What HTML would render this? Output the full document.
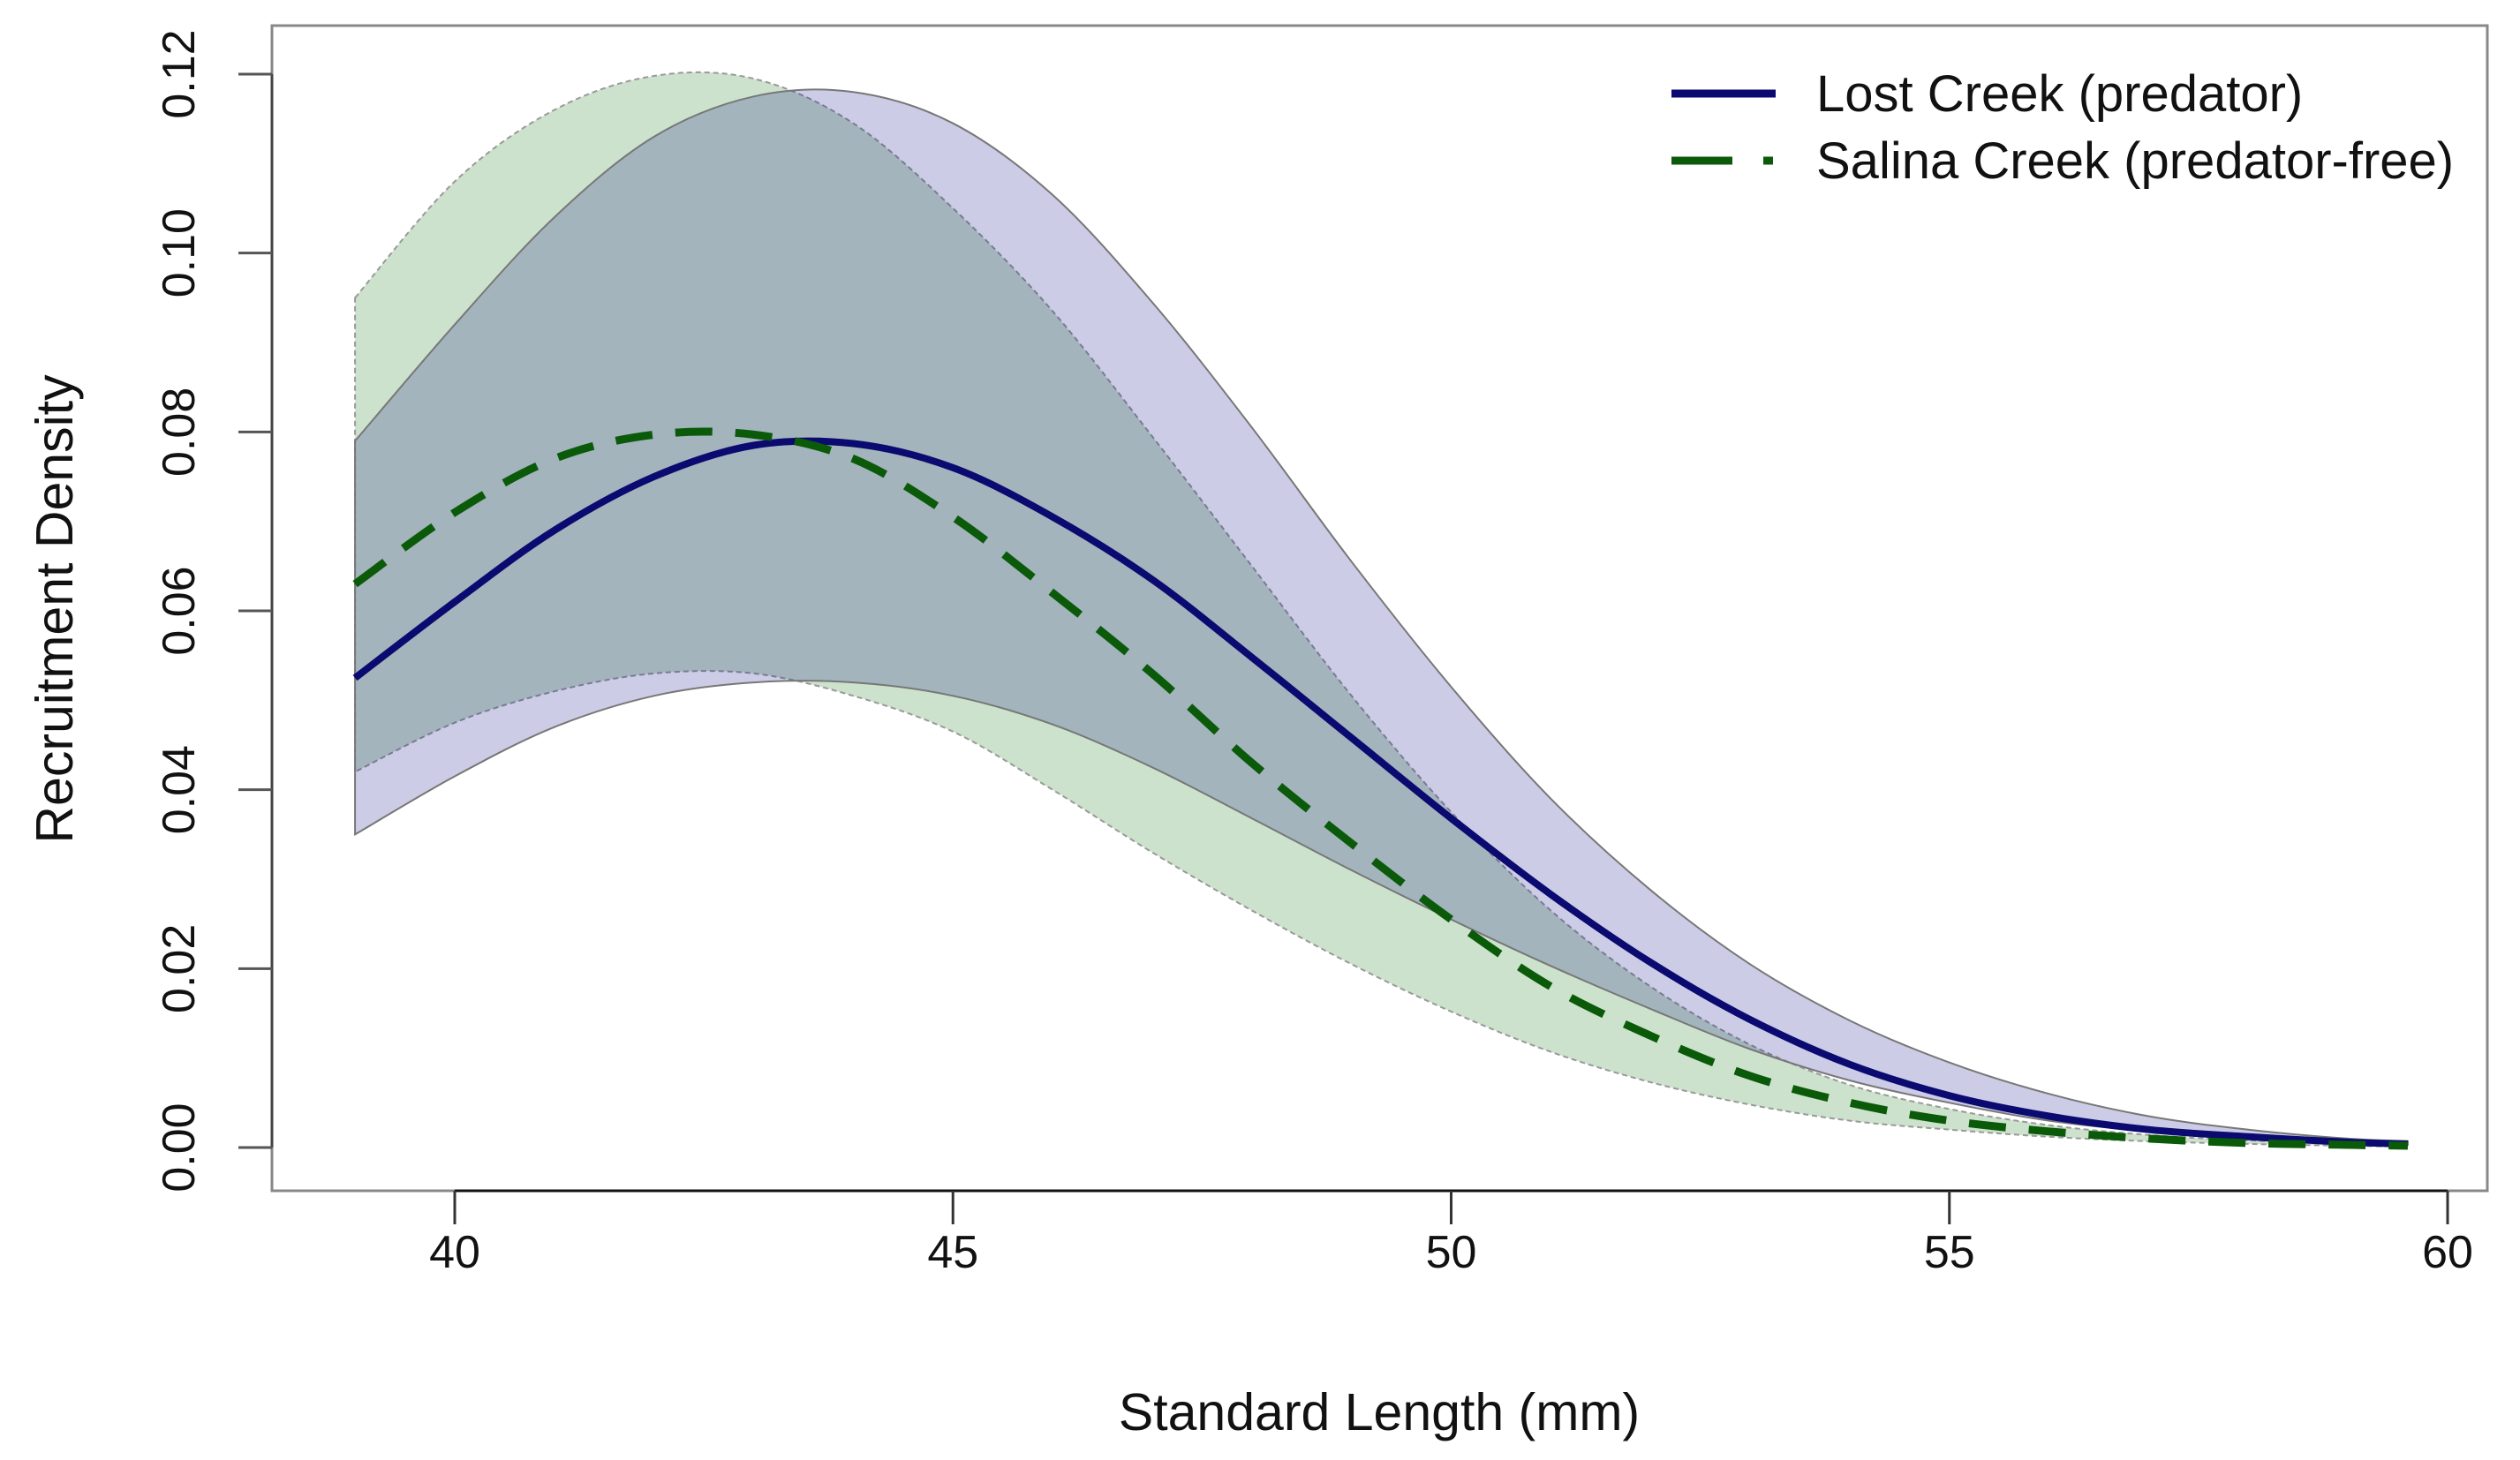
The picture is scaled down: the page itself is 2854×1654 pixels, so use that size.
<!DOCTYPE html>
<html><head><meta charset="utf-8"><style>
html,body{margin:0;padding:0;background:#fff;}
svg{display:block;}
text{font-family:"Liberation Sans",sans-serif;fill:#111;}
</style></head><body>
<svg id="chart" width="2854" height="1654" viewBox="0 0 2854 1654" xmlns="http://www.w3.org/2000/svg">
<g id="bands"></g>
<g id="lines"></g>
<g id="axes"></g>
<text x="1562" y="1620" font-size="59" text-anchor="middle">Standard Length (mm)</text>
<text transform="translate(82,690) rotate(-90)" font-size="59" text-anchor="middle">Recruitment Density</text>
<g>
<line x1="1893" y1="106" x2="2011" y2="106" stroke="#0a0a70" stroke-width="9"/>
<text x="2057" y="126" font-size="58">Lost Creek (predator)</text>
<line x1="1893" y1="182" x2="2011" y2="182" stroke="#0a5a0a" stroke-width="9" stroke-dasharray="69 35 11 100"/>
<text x="2057" y="202" font-size="58">Salina Creek (predator-free)</text>
</g>
</svg>
<script>
const xs = [39,40,41,42,43,44,45,46,47,48,49,50,51,52,53,54,55,56,57,58,59,59.6];
const lostMean = [0.0525,0.061,0.069,0.075,0.0785,0.0787,0.076,0.0705,0.0635,0.0548,0.0458,0.0368,0.0283,0.0207,0.0143,0.0093,0.0058,0.0035,0.002,0.0012,0.0006,0.0004];
const lostUpper = [0.079,0.092,0.104,0.113,0.1175,0.118,0.1145,0.1065,0.0945,0.0805,0.0655,0.0515,0.039,0.0288,0.0205,0.0142,0.0095,0.006,0.0035,0.002,0.001,0.0007];
const lostLower = [0.035,0.0415,0.047,0.0505,0.052,0.052,0.0505,0.0473,0.0425,0.0368,0.031,0.0255,0.0203,0.0155,0.011,0.0075,0.005,0.003,0.0018,0.001,0.0005,0.0003];
const salinaMean = [0.063,0.071,0.077,0.0797,0.0797,0.077,0.0705,0.062,0.053,0.043,0.034,0.0255,0.018,0.0125,0.008,0.005,0.003,0.0018,0.001,0.0005,0.0003,0.0002];
const salinaUpper = [0.095,0.108,0.116,0.1198,0.1195,0.1145,0.105,0.0935,0.0795,0.065,0.0505,0.0375,0.0265,0.018,0.0115,0.007,0.0043,0.0025,0.0014,0.0008,0.0004,0.0003];
const salinaLower = [0.042,0.0475,0.051,0.053,0.053,0.0505,0.0465,0.040,0.033,0.0265,0.0205,0.0152,0.0107,0.0073,0.0048,0.003,0.002,0.0012,0.0007,0.0004,0.0002,0.0001];
const xTicks = [40,45,50,55,60];
const yTicks = [0,0.02,0.04,0.06,0.08,0.10,0.12];
const yTickLabels = ["0.00","0.02","0.04","0.06","0.08","0.10","0.12"];

const NS="http://www.w3.org/2000/svg";
const X0=515, XS=(2772-515)/20, Y0=1300, YS=(1300-84)/0.12;
function sx(v){return X0+(v-40)*XS;}
function sy(v){return Y0-v*YS;}
function mk(tag,attrs,parent){const e=document.createElementNS(NS,tag);for(const k in attrs)e.setAttribute(k,attrs[k]);parent.appendChild(e);return e;}
function curve(p,start){let d=start+p[0][0].toFixed(1)+','+p[0][1].toFixed(1);
  for(let i=0;i<p.length-1;i++){const a=p[Math.max(0,i-1)],b=p[i],c=p[i+1],e=p[Math.min(p.length-1,i+2)];
    d+='C'+(b[0]+(c[0]-a[0])/6).toFixed(1)+','+(b[1]+(c[1]-a[1])/6).toFixed(1)+' '+(c[0]-(e[0]-b[0])/6).toFixed(1)+','+(c[1]-(e[1]-b[1])/6).toFixed(1)+' '+c[0].toFixed(1)+','+c[1].toFixed(1);}
  return d;}
function smooth(ys){return curve(xs.map((x,i)=>[sx(x),sy(ys[i])]),'M');}
function bandPath(up,lo){
  const rx=xs.slice().reverse(), rl=lo.slice().reverse();
  return smooth(up)+curve(rx.map((x,i)=>[sx(x),sy(rl[i])]),'L')+'Z';}
const bands=document.getElementById('bands'), lines=document.getElementById('lines'), axes=document.getElementById('axes');
let b1=mk('path',{d:bandPath(salinaUpper,salinaLower),fill:'rgba(0,110,0,0.2)',stroke:'#999','stroke-width':2,'stroke-dasharray':'6 4'},bands);


let b2=mk('path',{d:bandPath(lostUpper,lostLower),fill:'rgba(0,0,128,0.2)',stroke:'#777','stroke-width':2},bands);


let l1=mk('path',{d:smooth(lostMean),fill:'none',stroke:'#0a0a70','stroke-width':8},lines);


let l2=mk('path',{d:smooth(salinaMean),fill:'none',stroke:'#0a5a0a','stroke-width':9,'stroke-dasharray':'42 26'},lines);


let box=mk('rect',{x:308,y:29,width:2509,height:1320,fill:'none',stroke:'#888','stroke-width':3},axes);


let xa=mk('line',{x1:sx(40),y1:1349,x2:sx(60),y2:1349,stroke:'#111','stroke-width':3},axes);


let ya=mk('line',{x1:308,y1:sy(0),x2:308,y2:sy(0.12),stroke:'#444','stroke-width':3},axes);


xTicks.forEach(v=>{
  let t=mk('line',{x1:sx(v),y1:1349,x2:sx(v),y2:1387,stroke:'#333','stroke-width':3},axes);
  
  
  let tx=mk('text',{x:sx(v),y:1436,'font-size':52,'text-anchor':'middle'},axes);
  
  
  tx.textContent=String(v);
});
yTicks.forEach((v,i)=>{
  let t=mk('line',{x1:308,y1:sy(v),x2:270,y2:sy(v),stroke:'#555','stroke-width':3},axes);
  
  
  let tx=mk('text',{transform:'translate(220,'+sy(v)+') rotate(-90)','font-size':52,'text-anchor':'middle'},axes);
  
  
  tx.textContent=yTickLabels[i];
});
</script>
</body></html>
